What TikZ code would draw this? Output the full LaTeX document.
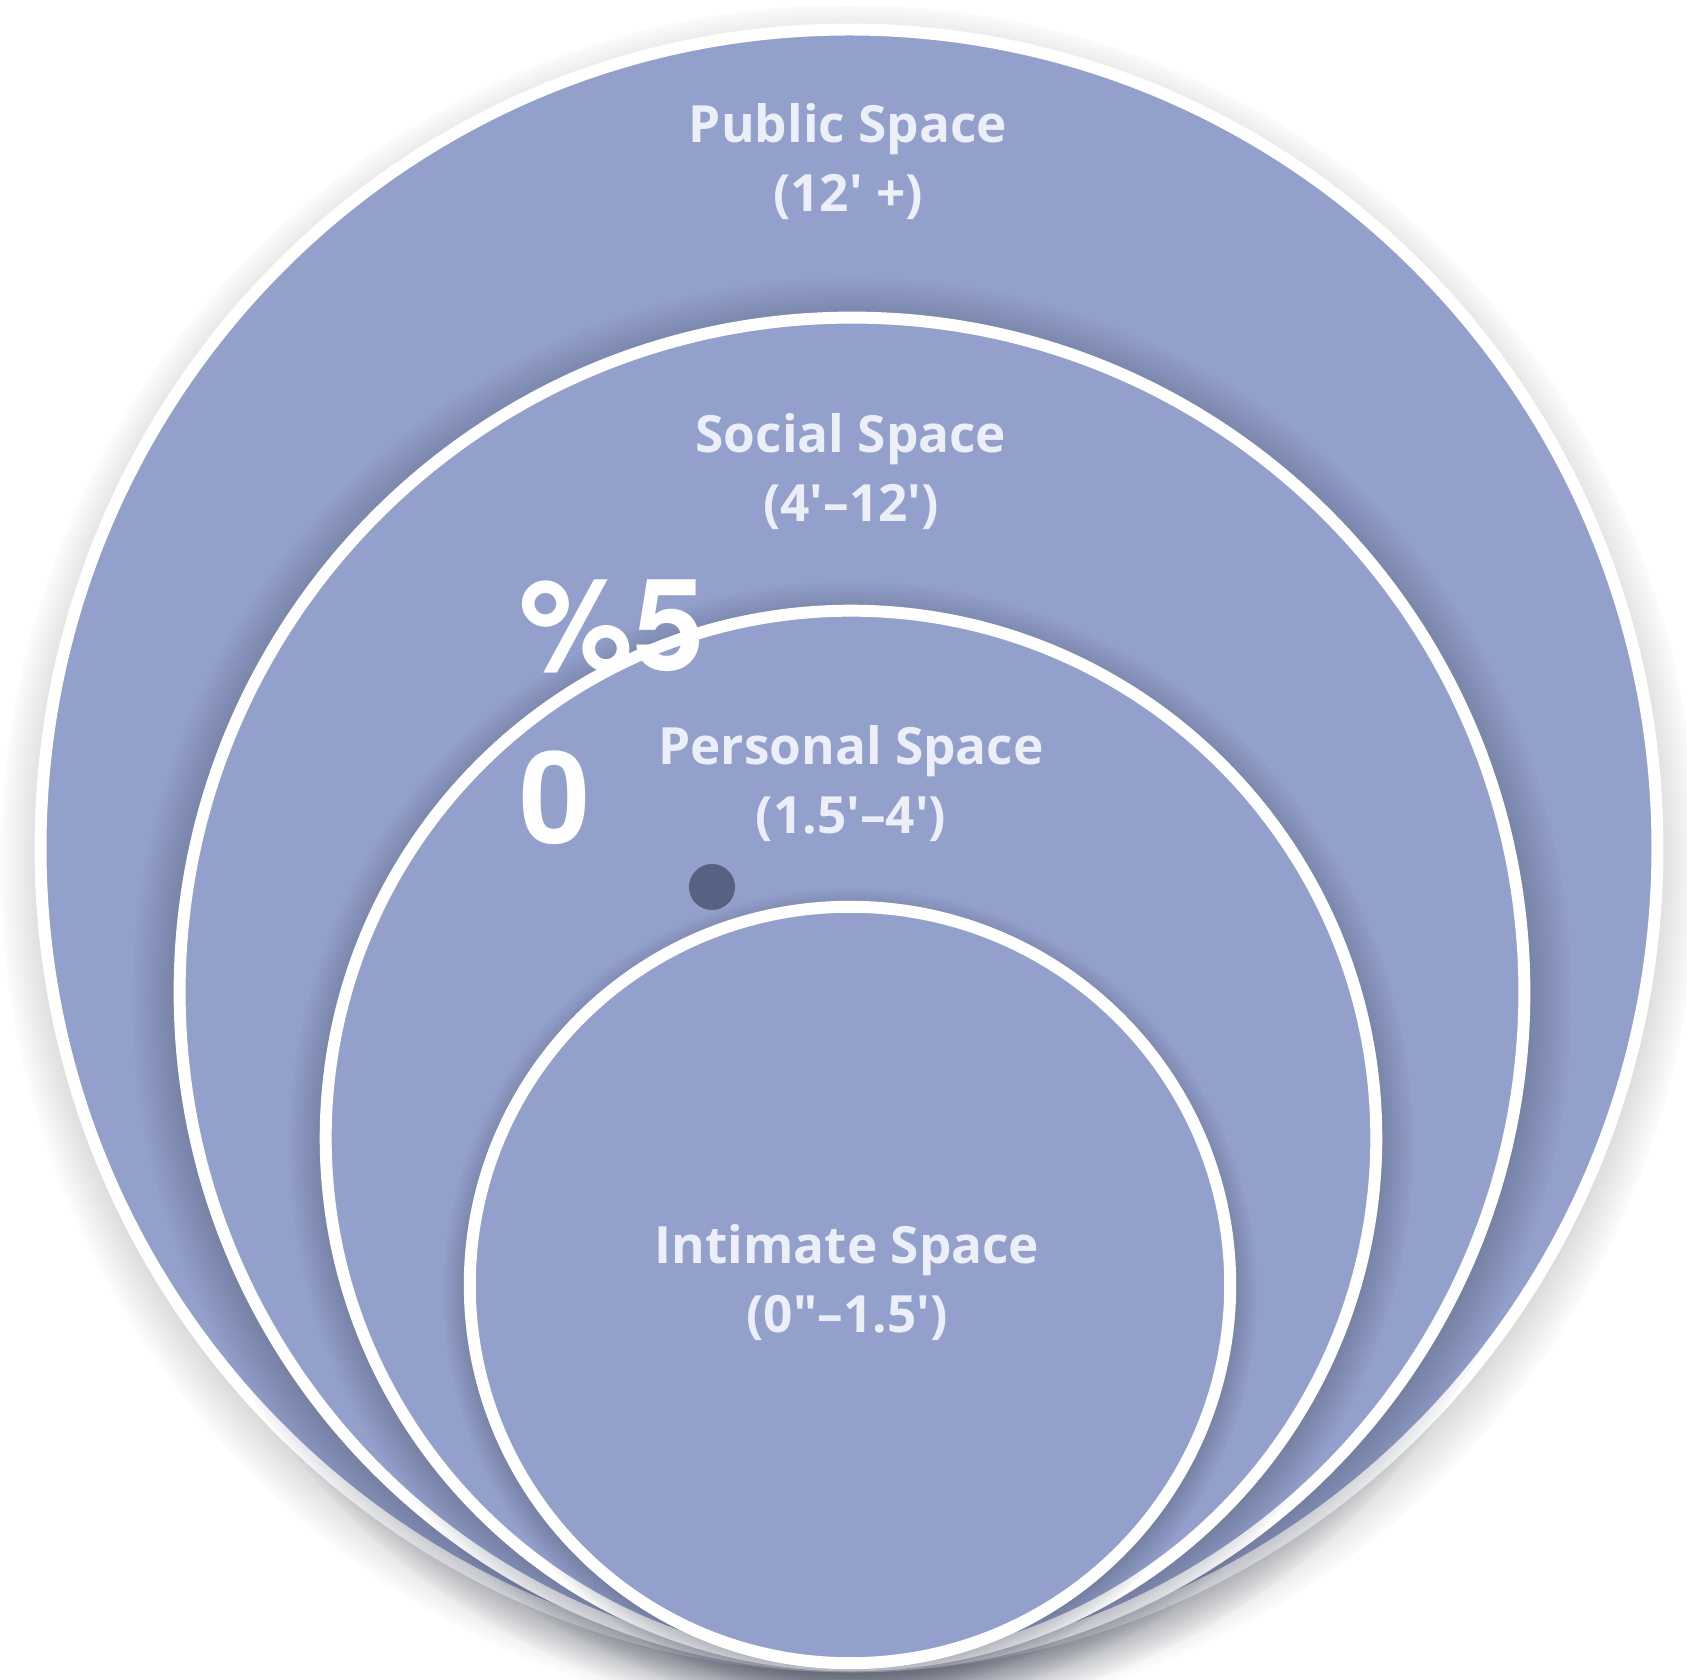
\documentclass[tikz,border=0pt]{standalone}
\usepackage{fontspec}
\newfontfamily\zonefont{Open Sans}
\newfontfamily\markfont{TeX Gyre Heros}
\usetikzlibrary{shapes.geometric,shadows,fadings}
\definecolor{zonefill}{RGB}{147,160,204}
\definecolor{zonetext}{RGB}{236,239,247}
\definecolor{dotfill}{RGB}{86,97,132}
\tikzset{
  zonebase/.style={ellipse, draw=white, line width=3.4pt, fill=zonefill, inner sep=0pt},
  zone/.style={zonebase,
    circular drop shadow={shadow xshift=0pt, shadow yshift=-2pt, shadow scale=1.07,
      opacity=0.8, color=black!55!zonefill}},
  zonelabel/.style={text=zonetext, font=\zonefont\bfseries\fontsize{14.6}{19.6}\selectfont, align=center}
}
\begin{document}
\begin{tikzpicture}[x=0.01cm,y=-0.01cm]
    \useasboundingbox (0,0) rectangle (1687,1680);
    \fill[white] (0,0) rectangle (1687,1680);
    % nested zones, all touching at the bottom
    \node[zonebase, minimum width=16.16cm, minimum height=16.36cm,
          circular drop shadow={shadow xshift=0pt, shadow yshift=-4pt, shadow scale=1.05,
            opacity=0.65, color=black!60}] (public) at (849,848) {};
    \node[zone, minimum width=13.44cm, minimum height=13.48cm] (social) at (852,992) {};
    \node[zone, minimum width=10.50cm, minimum height=10.54cm] (personal) at (851,1138) {};
    \node[zone, minimum width=7.60cm, minimum height=7.56cm] (intimate) at (850,1285) {};
    \node[zonelabel] (publiclabel) at (848,162) {Public Space\\(12' +)};
    \node[zonelabel] (sociallabel) at (851,472) {Social Space\\(4'–12')};
    \node[zonelabel] (personallabel) at (851,784) {Personal Space\\(1.5'–4')};
    \node[zonelabel] (intimatelabel) at (847,1283) {Intimate Space\\(0"–1.5')};
    \node[circle, fill=dotfill, minimum size=0.46cm, inner sep=0pt] (dot) at (712,887) {};
    \node[anchor=north west, inner sep=0pt, text=white, align=left,
          font=\markfont\bfseries\fontsize{36.4}{49.2}\selectfont] (mark) at (519,579) {\%5\\0};
\end{tikzpicture}
\end{document}
